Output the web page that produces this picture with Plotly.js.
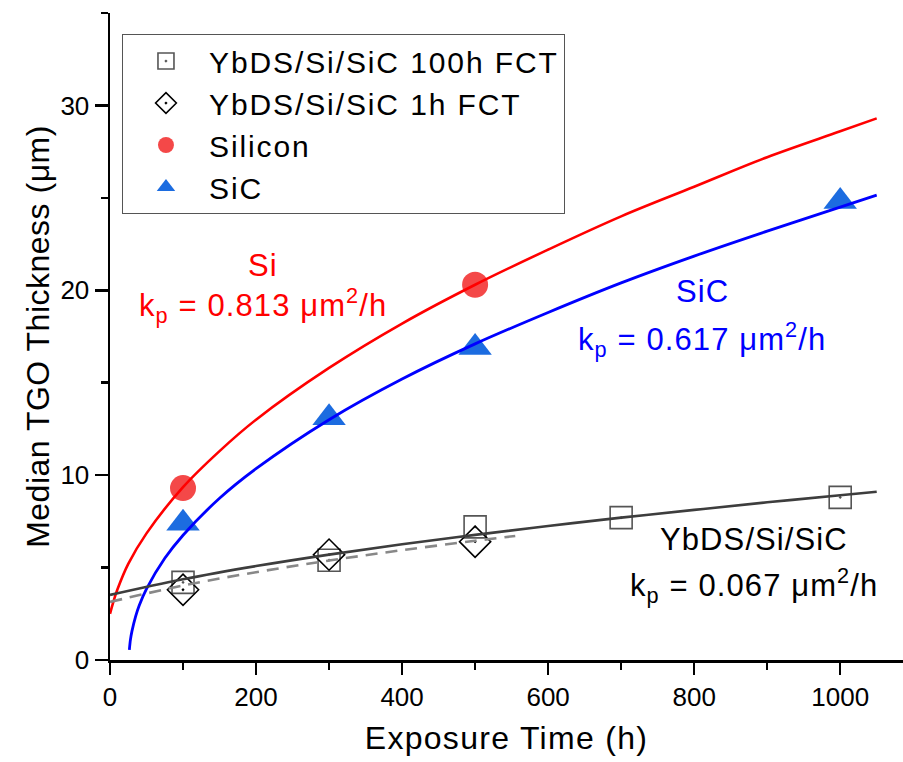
<!DOCTYPE html>
<html>
<head>
<meta charset="utf-8">
<script src="https://cdn.plot.ly/plotly-3.0.1.min.js"></script>
<style>
html,body{margin:0;padding:0;background:#fff;}
#chart{width:903px;height:762px;}
text.legendtext{letter-spacing:1.9px;}
text.annotation-text{letter-spacing:1.1px;}
text.xtitle{letter-spacing:1.3px;}
text.ytitle{letter-spacing:0.5px;}
</style>
</head>
<body>
<div id="chart"></div>
<script>
// ---- Data ----
const fct100T = [100, 300, 500, 700, 1000];
const fct100Y = [4.2, 5.4, 7.2, 7.7, 8.8];

const fct1T = [100, 300, 500];
const fct1Y = [3.8, 5.7, 6.4];

const siT = [100, 500];
const siY = [9.3, 20.3];

const sicT = [100, 300, 500, 1000];
const sicY = [7.4, 13.1, 16.9, 24.8];

// fitted curves
const siFitT = [0, 5, 10, 25, 50, 100, 150, 200, 300, 400, 500, 600, 700, 800, 900, 1000, 1050];
const siFitY = [2.5, 3.2, 3.8, 5.2, 6.85, 9.35, 11.3, 13.0, 15.8, 18.2, 20.3, 22.2, 24.0, 25.6, 27.2, 28.6, 29.3];

const sicFitT = [26.5, 28, 30, 35, 40, 50, 75, 100, 150, 200, 300, 400, 500, 600, 700, 800, 900, 1000, 1050];
const sicFitY = [0.55, 1.1, 1.55, 2.35, 2.95, 3.85, 5.5, 6.75, 8.75, 10.35, 13.0, 15.2, 17.1, 18.8, 20.4, 21.85, 23.2, 24.5, 25.15];

const ybFitT = [0, 100, 200, 300, 400, 500, 600, 700, 800, 900, 1000, 1050];
const ybFitY = [3.52, 4.37, 5.08, 5.70, 6.26, 6.77, 7.25, 7.70, 8.12, 8.53, 8.91, 9.10];

const yb1FitT = [0, 100, 200, 300, 400, 500, 555];
const yb1FitY = [3.14, 4.03, 4.75, 5.38, 5.94, 6.45, 6.71];

const legendNames = ["YbDS/Si/SiC 100h FCT", "YbDS/Si/SiC 1h FCT", "Silicon", "SiC"];
const xTitle = "Exposure Time (h)";
const yTitle = "Median TGO Thickness (μm)";

// ---- Chart ----
const FONT = "Liberation Sans, Arial, Helvetica, sans-serif";

const traces = [
  {x: fct100T, y: fct100Y, name: legendNames[0], mode: "markers", type: "scatter",
   marker: {symbol: "square-open-dot", size: 22, color: "#555555", line: {width: 1.6, color: "#555555"}}},
  {x: fct1T, y: fct1Y, name: legendNames[1], mode: "markers", type: "scatter",
   marker: {symbol: "diamond-open-dot", size: 24, color: "#000000", line: {width: 1.6, color: "#000000"}}},
  {x: siT, y: siY, name: legendNames[2], mode: "markers", type: "scatter",
   marker: {symbol: "circle", size: 26, color: "#f44848", line: {width: 0}}},
  {x: sicT, y: sicY, name: legendNames[3], mode: "markers", type: "scatter",
   marker: {symbol: "triangle-up", size: 29, color: "#1c6ce0", line: {width: 0}}},
  {x: siFitT, y: siFitY, mode: "lines", type: "scatter", showlegend: false, hoverinfo: "skip",
   line: {color: "#ff0000", width: 2.6, shape: "spline"}},
  {x: sicFitT, y: sicFitY, mode: "lines", type: "scatter", showlegend: false, hoverinfo: "skip",
   line: {color: "#0000ff", width: 2.8, shape: "spline"}},
  {x: ybFitT, y: ybFitY, mode: "lines", type: "scatter", showlegend: false, hoverinfo: "skip",
   line: {color: "#3d3d3d", width: 2.6, shape: "spline"}},
  {x: yb1FitT, y: yb1FitY, mode: "lines", type: "scatter", showlegend: false, hoverinfo: "skip",
   line: {color: "#888888", width: 2.6, shape: "spline", dash: "12px,8px"}}
];

const annFont = (c) => ({family: FONT, size: 31, color: c});

const layout = {
  width: 903, height: 762,
  margin: {l: 110, r: 0, t: 13, b: 102, pad: 0},
  paper_bgcolor: "#ffffff", plot_bgcolor: "#ffffff",
  font: {family: FONT, color: "#000"},
  showlegend: true,
  legend: {
    x: 0.0151, y: 0.9675, xanchor: "left", yanchor: "top",
    bgcolor: "#ffffff", bordercolor: "#555555", borderwidth: 1,
    font: {family: FONT, size: 30, color: "#000"},
    itemwidth: 76, traceorder: "normal"
  },
  xaxis: {
    range: [0, 1086], tick0: 0, dtick: 200,
    showline: true, linecolor: "#000", linewidth: 2.5,
    ticks: "outside", ticklen: 12, tickwidth: 2.5, tickcolor: "#000",
    minor: {dtick: 100, tick0: 0, ticks: "outside", ticklen: 7, tickwidth: 2.5, tickcolor: "#000"},
    showgrid: false, zeroline: false,
    tickfont: {family: FONT, size: 26, color: "#000"},
    title: {text: xTitle, font: {family: FONT, size: 32, color: "#000"}, standoff: 16}
  },
  xaxis2: {
    overlaying: "x", side: "top", anchor: "y", range: [0, 1086], tick0: 0, dtick: 200,
    showline: true, linecolor: "#000", linewidth: 2.5,
    ticks: "inside", ticklen: 12, tickwidth: 2.5, tickcolor: "#000",
    showticklabels: false, showgrid: false, zeroline: false
  },
  yaxis: {
    range: [0, 35], tick0: 0, dtick: 10,
    showline: true, linecolor: "#000", linewidth: 2.5,
    ticks: "outside", ticklen: 13, tickwidth: 2.5, tickcolor: "#000",
    minor: {dtick: 5, tick0: 0, ticks: "outside", ticklen: 7, tickwidth: 2.5, tickcolor: "#000"},
    showgrid: false, zeroline: false,
    tickfont: {family: FONT, size: 26, color: "#000"},
    title: {text: yTitle, font: {family: FONT, size: 32, color: "#000"}, standoff: 1}
  },
  annotations: [
    {x: 209, y: 21.35, xref: "x", yref: "y", text: "Si", showarrow: false, font: annFont("#ff0000"), xanchor: "center", yanchor: "middle"},
    {x: 209, y: 19.2, xref: "x", yref: "y", text: "k<sub>p</sub> = 0.813 μm<sup>2</sup>/h", showarrow: false, font: annFont("#ff0000"), xanchor: "center", yanchor: "middle"},
    {x: 811, y: 19.95, xref: "x", yref: "y", text: "SiC", showarrow: false, font: annFont("#0000ff"), xanchor: "center", yanchor: "middle"},
    {x: 811, y: 17.35, xref: "x", yref: "y", text: "k<sub>p</sub> = 0.617 μm<sup>2</sup>/h", showarrow: false, font: annFont("#0000ff"), xanchor: "center", yanchor: "middle"},
    {x: 882, y: 6.5, xref: "x", yref: "y", text: "YbDS/Si/SiC", showarrow: false, font: annFont("#000000"), xanchor: "center", yanchor: "middle"},
    {x: 882, y: 4.05, xref: "x", yref: "y", text: "k<sub>p</sub> = 0.067 μm<sup>2</sup>/h", showarrow: false, font: annFont("#000000"), xanchor: "center", yanchor: "middle"}
  ]
};

Plotly.newPlot("chart", traces, layout, {displayModeBar: false, staticPlot: true});
</script>
</body>
</html>
